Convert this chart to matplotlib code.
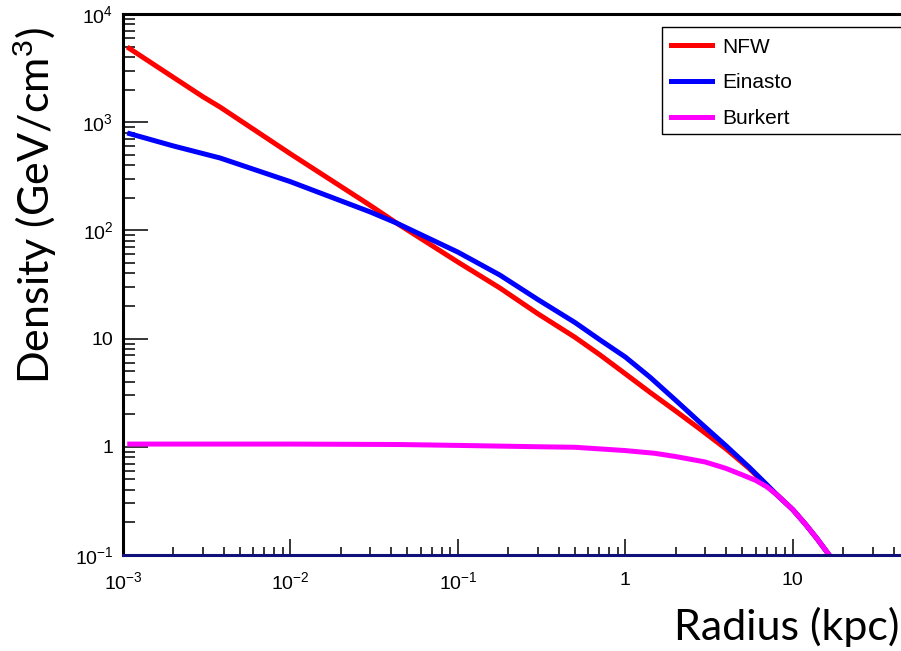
import math
import matplotlib
matplotlib.use("Agg")
import matplotlib.pyplot as plt
from matplotlib.ticker import LogLocator, FuncFormatter, NullFormatter
from matplotlib.lines import Line2D
from matplotlib.patches import Rectangle

# Dark matter density profiles
radius_nfw = [1.06e-3, 3e-3, 3.8e-3, 0.01, 0.03, 0.043, 0.1, 0.178, 0.3, 0.5,
              0.708, 1.0, 1.4, 2.0, 2.79, 4.0, 5.5, 7.0, 8.0, 10.0, 12.0,
              14.0, 16.5, 20.0]
density_nfw = [4950, 1720, 1380, 510, 170, 117, 51, 29.4, 17, 10.3,
               7.05, 4.73, 3.2, 2.14, 1.46, 0.955, 0.63, 0.437, 0.363, 0.263,
               0.19, 0.141, 0.1, 0.07]

radius_einasto = [1.06e-3, 2e-3, 3e-3, 3.8e-3, 0.01, 0.03, 0.043, 0.1, 0.178,
                  0.3, 0.5, 0.708, 1.0, 1.4, 2.0, 2.79, 4.0, 5.5, 7.0, 8.0,
                  10.0, 12.0, 14.0, 16.5, 20.0]
density_einasto = [795, 603, 513, 467, 282, 148, 117, 63, 38.7,
                   23, 14.1, 9.7, 6.76, 4.42, 2.69, 1.68, 1.02, 0.646, 0.447, 0.363,
                   0.263, 0.19, 0.141, 0.1, 0.07]

radius_burkert = [1.06e-3, 0.01, 0.0445, 0.1, 0.317, 0.5, 1.0, 1.5, 2.0, 3.0,
                  4.0, 5.0, 6.0, 7.0, 8.0, 10.0, 12.0, 14.0, 16.5, 20.0]
density_burkert = [1.06, 1.06, 1.05, 1.03, 1.0, 0.99, 0.923, 0.871, 0.813, 0.724,
                   0.631, 0.55, 0.49, 0.427, 0.363, 0.263, 0.19, 0.141, 0.1, 0.07]

labels = ["NFW", "Einasto", "Burkert"]
colors = ["#ff0000", "#0000ff", "#ff00ff"]

plt.rcParams["mathtext.fontset"] = "custom"
plt.rcParams["mathtext.rm"] = "Liberation Sans"
plt.rcParams["mathtext.it"] = "Liberation Sans"

W, H = 901, 651
fig = plt.figure(figsize=(W / 100, H / 100), dpi=100)
# x range ends past the right edge of the picture, as in the reference
ax = fig.add_axes([123 / W, (H - 555) / H, 800 / W, 541 / H])

ax.plot(radius_nfw, density_nfw, color=colors[0], lw=3.6, solid_capstyle="butt")
ax.plot(radius_einasto, density_einasto, color=colors[1], lw=3.6, solid_capstyle="butt")
ax.plot(radius_burkert, density_burkert, color=colors[2], lw=3.6, solid_capstyle="butt")

ax.set_xscale("log")
ax.set_yscale("log")
ax.set_xlim(1e-3, 60)
ax.set_ylim(0.1, 1e4)


def root_fmt(v, pos):
    e = int(round(math.log10(v)))
    if e == 0:
        return "1"
    if e == 1:
        return "10"
    return r"$\mathregular{10^{%d}}$" % e


ax.xaxis.set_major_locator(LogLocator(base=10, numticks=20))
ax.yaxis.set_major_locator(LogLocator(base=10, numticks=20))
ax.xaxis.set_minor_locator(LogLocator(base=10, subs=range(2, 10), numticks=20))
ax.yaxis.set_minor_locator(LogLocator(base=10, subs=range(2, 10), numticks=20))
ax.xaxis.set_major_formatter(FuncFormatter(root_fmt))
ax.yaxis.set_major_formatter(FuncFormatter(root_fmt))
ax.xaxis.set_minor_formatter(NullFormatter())
ax.yaxis.set_minor_formatter(NullFormatter())

ax.tick_params(axis="x", which="major", direction="in", length=11.5, width=1.1,
               pad=12, labelsize=14, top=False)
ax.tick_params(axis="x", which="minor", direction="in", length=5.8, width=1.1, top=False)
ax.tick_params(axis="y", which="major", direction="in", length=18, width=1.1,
               pad=7, labelsize=14, right=False)
ax.tick_params(axis="y", which="minor", direction="in", length=8.6, width=1.1, right=False)
for lab in ax.get_xticklabels() + ax.get_yticklabels():
    lab.set_fontfamily("Liberation Sans")

for side in ["left", "top", "right"]:
    ax.spines[side].set_linewidth(2.2)
ax.spines["bottom"].set_linewidth(2.2)
ax.spines["bottom"].set_color("#10107a")

# legend box (extends past the right edge like the reference)
fig.patches.append(Rectangle((662 / W, 1 - 134 / H), 300 / W, 107 / H,
                             transform=fig.transFigure, fill=False,
                             edgecolor="black", lw=1.0))
handles = [Line2D([], [], color=c, lw=3.6) for c in colors]
leg = fig.legend(handles, labels, loc="upper left",
                 bbox_to_anchor=(656 / W, 1 - 23 / H), frameon=False,
                 prop={"family": "Liberation Sans", "size": 15},
                 handlelength=2.0, handletextpad=0.5, labelspacing=0.8,
                 borderpad=0.2)

fig.text(35 / W, 1 - 206 / H, "Density (GeV/cm$^3$)", rotation=90,
         ha="center", va="center", fontsize=31, family="Lato")
fig.text(899 / W, 1 - 627 / H, "Radius (kpc)", ha="right", va="center",
         fontsize=31, family="Lato")

fig.savefig("out.png", dpi=100)
